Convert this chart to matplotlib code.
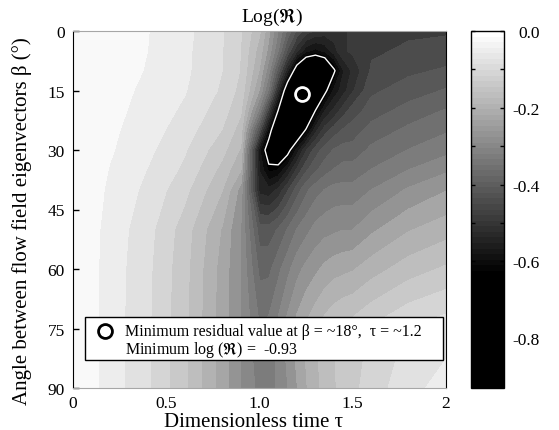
import matplotlib
matplotlib.use("Agg")
import matplotlib.pyplot as plt
import numpy as np
from matplotlib.colors import LinearSegmentedColormap, Normalize
from matplotlib.cm import ScalarMappable
from matplotlib.patches import Rectangle

plt.rcParams["font.family"] = ["Liberation Serif", "DejaVu Serif"]
plt.rcParams["mathtext.fontset"] = "stix"

# grid: tau across, beta down
tau = [0, 0.2, 0.4, 0.6, 0.8, 0.9, 1.0, 1.05, 1.1, 1.15, 1.2, 1.25, 1.3, 1.35, 1.4, 1.45, 1.5, 1.6, 1.8, 2.0]
beta = [0, 5, 10, 15, 20, 25, 30, 35, 40, 50, 60, 75, 90]
log_r = [
    [0, -0.015, -0.030, -0.053, -0.090, -0.122, -0.18, -0.24, -0.31, -0.38, -0.44, -0.48, -0.50, -0.51, -0.51, -0.50, -0.49, -0.48, -0.47, -0.47],
    [0, -0.016, -0.031, -0.055, -0.092, -0.125, -0.20, -0.26, -0.34, -0.44, -0.52, -0.58, -0.60, -0.58, -0.54, -0.50, -0.49, -0.47, -0.46, -0.45],
    [0, -0.017, -0.033, -0.056, -0.093, -0.126, -0.22, -0.30, -0.42, -0.55, -0.70, -0.80, -0.83, -0.78, -0.66, -0.56, -0.52, -0.46, -0.44, -0.43],
    [0, -0.019, -0.038, -0.060, -0.098, -0.135, -0.25, -0.35, -0.52, -0.72, -0.90, -0.93, -0.85, -0.67, -0.58, -0.54, -0.50, -0.44, -0.42, -0.40],
    [0, -0.022, -0.042, -0.068, -0.110, -0.150, -0.32, -0.48, -0.65, -0.80, -0.84, -0.78, -0.65, -0.56, -0.52, -0.48, -0.45, -0.42, -0.39, -0.37],
    [0, -0.025, -0.048, -0.078, -0.125, -0.170, -0.44, -0.61, -0.76, -0.80, -0.74, -0.64, -0.54, -0.48, -0.45, -0.43, -0.42, -0.39, -0.365, -0.345],
    [0, -0.028, -0.055, -0.090, -0.145, -0.190, -0.58, -0.70, -0.74, -0.68, -0.58, -0.50, -0.45, -0.42, -0.40, -0.39, -0.39, -0.365, -0.34, -0.32],
    [0, -0.033, -0.063, -0.100, -0.165, -0.215, -0.56, -0.63, -0.62, -0.56, -0.49, -0.44, -0.41, -0.385, -0.37, -0.36, -0.36, -0.34, -0.31, -0.285],
    [0, -0.037, -0.070, -0.115, -0.185, -0.260, -0.54, -0.55, -0.52, -0.47, -0.42, -0.38, -0.355, -0.34, -0.33, -0.33, -0.33, -0.31, -0.275, -0.25],
    [0, -0.043, -0.082, -0.140, -0.220, -0.280, -0.42, -0.42, -0.40, -0.37, -0.34, -0.32, -0.30, -0.29, -0.285, -0.28, -0.28, -0.255, -0.22, -0.20],
    [0, -0.045, -0.086, -0.145, -0.230, -0.280, -0.38, -0.38, -0.35, -0.32, -0.29, -0.27, -0.255, -0.24, -0.23, -0.225, -0.22, -0.20, -0.17, -0.15],
    [0, -0.046, -0.088, -0.148, -0.233, -0.280, -0.34, -0.33, -0.30, -0.265, -0.235, -0.21, -0.19, -0.17, -0.155, -0.145, -0.14, -0.12, -0.09, -0.075],
    [0, -0.046, -0.088, -0.148, -0.233, -0.279, -0.32, -0.325, -0.305, -0.28, -0.25, -0.22, -0.195, -0.175, -0.158, -0.145, -0.132, -0.11, -0.072, -0.05],
]
min_tau, min_beta = 1.23, 15.9
z_min, z_max = -0.93, 0.0
outline_level = -0.65

cmap = LinearSegmentedColormap.from_list("grey_clip", [(0, "black"), (0.32, "black"), (1, "white")], N=64)
norm = Normalize(vmin=z_min, vmax=z_max)
levels = np.linspace(z_min, z_max, 31)

W, H = 559, 431
fig = plt.figure(figsize=(W / 100, H / 100), dpi=100)
ax = fig.add_axes([73 / W, 1 - 389 / H, 373 / W, 357 / H])
cax = fig.add_axes([471 / W, 1 - 389 / H, 33 / W, 357 / H])

ax.contourf(tau, beta, log_r, levels=levels, cmap=cmap, norm=norm)
ax.contour(tau, beta, log_r, levels=[outline_level], colors="white",
           linewidths=1, linestyles="solid")
ax.plot(min_tau, min_beta, "o", mfc="none", mec="white", ms=10, mew=2)

ax.set_xlim(0, 2)
ax.set_ylim(90, 0)
ax.set_xticks([0, 0.5, 1.0, 1.5, 2])
ax.set_xticklabels(["0", "0.5", "1.0", "1.5", "2"])
ax.set_yticks([0, 15, 30, 45, 60, 75, 90])
ax.tick_params(axis="x", length=0, pad=5, labelsize=12.5)
ax.tick_params(axis="y", direction="in", length=4, width=1, pad=6, labelsize=12.5)
for side in ["left", "right"]:
    ax.spines[side].set_color("black")
for side in ["top", "bottom"]:
    ax.spines[side].set_color("0.65")

ax.set_xlabel("Dimensionless time τ", fontsize=15, va="top")
ax.xaxis.set_label_coords(0.485, -0.067)
ax.set_ylabel("Angle between flow field eigenvectors β (°)", fontsize=15)
ax.yaxis.set_label_coords(-0.11, 0.47)
fig.text(272 / W, 1 - 17 / H, r"Log($\Re$)", ha="center", va="center", fontsize=14)

# legend box
ax.add_patch(Rectangle((0.032, 0.078), 0.96, 0.121, transform=ax.transAxes,
                       fc="white", ec="black", lw=1, zorder=5))
ax.plot(0.086, 0.16, "o", transform=ax.transAxes, mfc="white", mec="black",
        ms=10, mew=2, zorder=6, clip_on=False)
ax.text(0.139, 0.16, "Minimum residual value at β = ~18°,  τ = ~1.2",
        transform=ax.transAxes, va="center", fontsize=11.5, zorder=6)
ax.text(0.139, 0.109, r"Minimum log ($\Re$) =  -0.93",
        transform=ax.transAxes, va="center", fontsize=11.5, zorder=6)

# colorbar
cb = fig.colorbar(ScalarMappable(norm=norm, cmap=cmap), cax=cax)
cb.set_ticks([-0.8, -0.6, -0.4, -0.2, 0.0])
cb.set_ticklabels(["-0.8", "-0.6", "-0.4", "-0.2", "0.0"])
cax.set_yticks([-0.9, -0.7, -0.5, -0.3, -0.1], minor=True)
cax.tick_params(which="both", direction="in", left=True, right=True, length=3, width=1)
cax.tick_params(which="major", labelsize=12.5, pad=26)
for t in cax.get_yticklabels():
    t.set_ha("right")
cb.outline.set_linewidth(1)

fig.savefig("out.png", dpi=100)
